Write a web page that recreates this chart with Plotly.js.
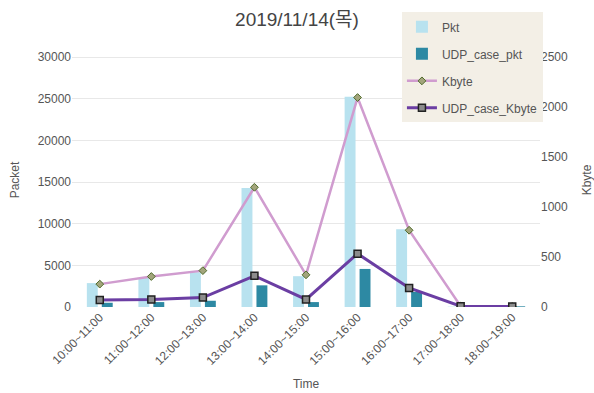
<!DOCTYPE html>
<html>
<head>
<meta charset="utf-8">
<script src="https://cdn.plot.ly/plotly-3.0.1.min.js"></script>
<style>html,body{margin:0;padding:0;background:#fff;}#chart{width:594px;height:393px;}</style>
</head>
<body>
<div id="chart"></div>
<script>
const categories = ["10:00~11:00","11:00~12:00","12:00~13:00","13:00~14:00","14:00~15:00","15:00~16:00","16:00~17:00","17:00~18:00","18:00~19:00"];
const pkt = [2870, 3500, 4170, 14300, 3700, 25260, 9340, 40, 60];
const udpCasePkt = [510, 590, 750, 2600, 590, 4570, 1810, 20, 80];
const kbyte = [229, 305, 364, 1198, 322, 2096, 768, 8, 5];
const udpCaseKbyte = [69, 76, 95, 312, 76, 534, 190, 8, 6];

const font = "Liberation Sans, Arial, 'Noto Sans CJK KR', sans-serif";
const traces = [
  {type:'bar', name:'Pkt', x:categories, y:pkt, marker:{color:'#b8e2ef'}, legendgroup:'a'},
  {type:'bar', name:'UDP_case_pkt', x:categories, y:udpCasePkt, marker:{color:'#2d89a3'}, legendgroup:'b'},
  {type:'scatter', mode:'lines+markers', name:'Kbyte', x:categories, y:kbyte, yaxis:'y2',
   line:{color:'#d09ccf', width:2.5}, marker:{symbol:'diamond', size:6, color:'#a3a57c', line:{color:'#4f6b2a', width:1}}, legendgroup:'c'},
  {type:'scatter', mode:'lines+markers', name:'UDP_case_Kbyte', x:categories, y:udpCaseKbyte, yaxis:'y2',
   line:{color:'#6b3ea3', width:3}, marker:{symbol:'square', size:7, color:'#8c8c8c', line:{color:'#222', width:1.5}}, legendgroup:'d'}
];
const yTop = 30500;
const layout = {
  width:594, height:393,
  margin:{l:72, r:54, t:49, b:86},
  paper_bgcolor:'#fff', plot_bgcolor:'#fff',
  font:{family:font, size:12, color:'#555'},
  title:{text:'2019/11/14(목)', x:0.5, xanchor:'center', y:0.95, yanchor:'middle', font:{family:font, size:19, color:'#444'}},
  barmode:'group', bargap:0.42, bargroupgap:0.27,
  xaxis:{tickangle:-45, showgrid:false, zeroline:false, showline:false, ticks:'',
    title:{text:'Time', font:{size:12, color:'#555'}, standoff:12}, tickfont:{size:12, color:'#555'}},
  yaxis:{range:[0,yTop], tickvals:[0,5000,10000,15000,20000,25000,30000], ticktext:['0','5000','10000','15000','20000','25000','30000'],
    gridcolor:'#e8e8e8', zeroline:false, showline:false,
    title:{text:'Packet', font:{size:12, color:'#555'}, standoff:15}, tickfont:{size:12, color:'#555'}},
  yaxis2:{overlaying:'y', side:'right', range:[0,yTop/12], tickvals:[0,500,1000,1500,2000,2500], ticktext:['0','500','1000','1500','2000','2500'],
    showgrid:false, zeroline:false, showline:false,
    title:{text:'Kbyte', font:{size:12, color:'#555'}, standoff:16}, tickfont:{size:12, color:'#555'}},
  legend:{x:0.705, y:1.16, xanchor:'left', yanchor:'top', bgcolor:'#f3efe6', borderwidth:0,
    font:{size:12, color:'#555'}, tracegroupgap:8, traceorder:'grouped'},
  showlegend:true
};
Plotly.newPlot('chart', traces, layout, {displayModeBar:false, staticPlot:true});
</script>
</body>
</html>
